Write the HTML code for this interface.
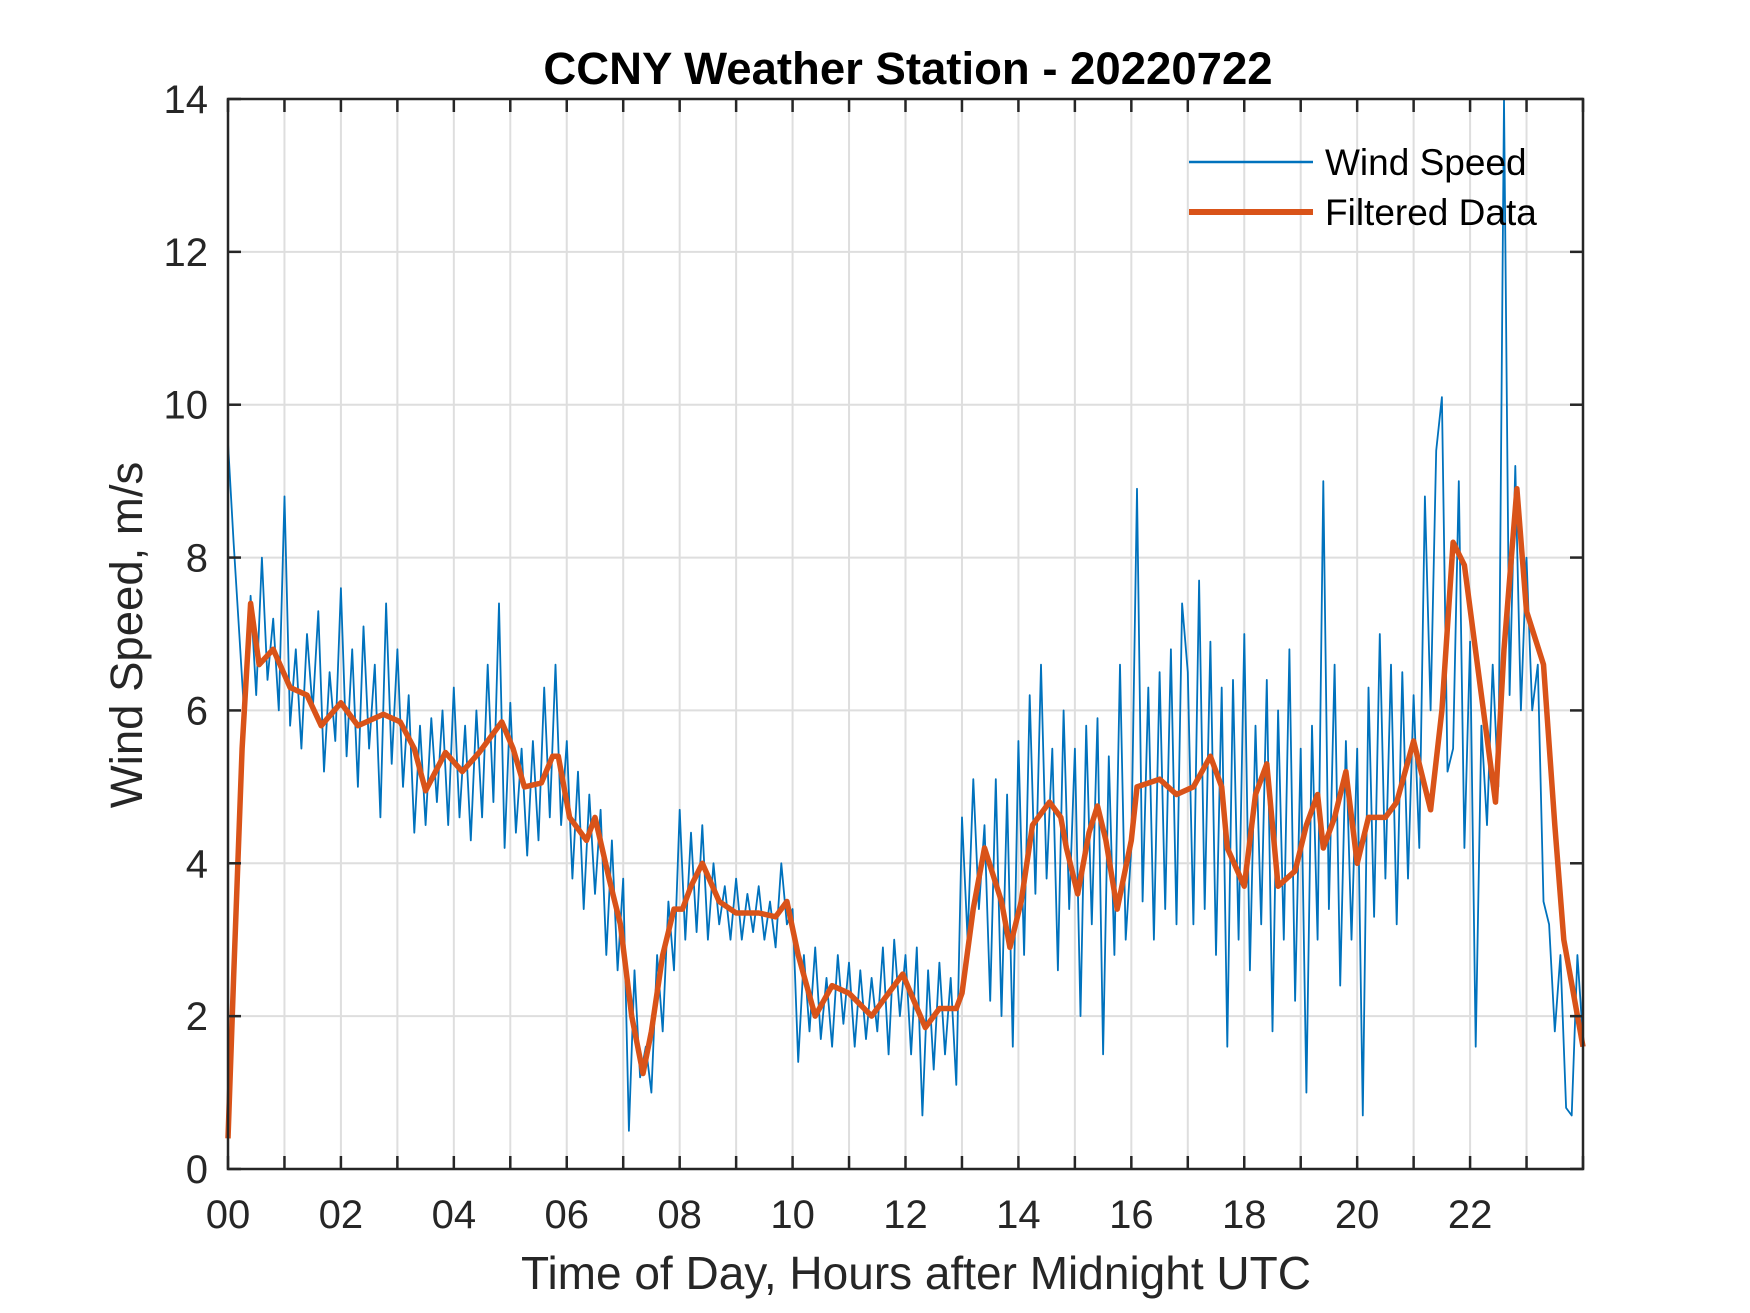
<!DOCTYPE html>
<html><head><meta charset="utf-8"><style>
html,body{margin:0;padding:0;background:#fff;}
svg{display:block;font-family:"Liberation Sans",Arial,sans-serif;}
</style></head><body>
<svg id="chart" width="1750" height="1313" viewBox="0 0 1750 1313" xmlns="http://www.w3.org/2000/svg">
<rect width="1750" height="1313" fill="#fff"/>
<g id="grid"></g>
<g id="plot"></g>
<g id="axes"></g>
<text x="908" y="84" text-anchor="middle" font-size="45.5" font-weight="bold" fill="#000">CCNY Weather Station - 20220722</text>
<text x="916" y="1289" text-anchor="middle" font-size="46" fill="#262626">Time of Day, Hours after Midnight UTC</text>
<text transform="translate(142,635) rotate(-90)" text-anchor="middle" font-size="45.5" fill="#262626">Wind Speed, m/s</text>
<g>
<line x1="1189" y1="162" x2="1313" y2="162" stroke="#0072BD" stroke-width="2.5"/>
<text x="1325" y="175" font-size="37" fill="#000">Wind Speed</text>
<line x1="1189" y1="212" x2="1313" y2="212" stroke="#D95319" stroke-width="6"/>
<text x="1325" y="225" font-size="37" fill="#000">Filtered Data</text>
</g>
</svg>
<script>
const windSpeed = [
9.5,8.2,7.0,5.8,7.5,6.2,8.0,6.4,7.2,6.0,
8.8,5.8,6.8,5.5,7.0,6.0,7.3,5.2,6.5,5.6,
7.6,5.4,6.8,5.0,7.1,5.5,6.6,4.6,7.4,5.3,
6.8,5.0,6.2,4.4,5.8,4.5,5.9,4.8,6.0,4.5,
6.3,4.6,5.8,4.3,6.0,4.6,6.6,4.8,7.4,4.2,
6.1,4.4,5.5,4.1,5.6,4.3,6.3,4.6,6.6,4.5,
5.6,3.8,5.2,3.4,4.9,3.6,4.7,2.8,4.3,2.6,
3.8,0.5,2.6,1.2,1.6,1.0,2.8,1.8,3.5,2.6,
4.7,3.0,4.4,3.1,4.5,3.0,4.0,3.2,3.7,3.0,
3.8,3.0,3.6,3.1,3.7,3.0,3.5,2.9,4.0,3.2,
3.4,1.4,2.8,1.8,2.9,1.7,2.5,1.6,2.8,1.9,
2.7,1.6,2.6,1.7,2.5,1.8,2.9,1.5,3.0,2.0,
2.8,1.5,2.9,0.7,2.6,1.3,2.7,1.5,2.5,1.1,
4.6,3.0,5.1,3.4,4.5,2.2,5.1,2.0,4.9,1.6,
5.6,2.8,6.2,3.6,6.6,3.8,5.5,2.6,6.0,3.4,
5.5,2.0,5.8,3.2,5.9,1.5,5.4,2.8,6.6,3.0,
4.2,8.9,3.5,6.3,3.0,6.5,3.4,6.8,3.2,7.4,
6.5,3.2,7.7,3.4,6.9,2.8,6.3,1.6,6.4,3.0,
7.0,2.6,5.8,3.2,6.4,1.8,6.0,3.0,6.8,2.2,
5.5,1.0,5.8,3.0,9.0,3.4,6.6,2.4,5.6,3.0,
5.5,0.7,6.3,3.3,7.0,3.8,6.6,3.2,6.5,3.8,
6.2,4.2,8.8,6.0,9.4,10.1,5.2,5.5,9.0,4.2,
6.9,1.6,5.8,4.5,6.6,5.0,14.0,6.2,9.2,6.0,
8.0,6.0,6.6,3.5,3.2,1.8,2.8,0.8,0.7,2.8,
1.7];
const windStep = 0.1;
const filtHours = [0,0.1,0.25,0.4,0.55,0.8,1.1,1.4,1.65,2.0,2.3,2.75,3.05,3.3,3.5,3.85,4.15,4.45,4.85,5.05,5.25,5.55,5.75,5.85,6.05,6.35,6.5,6.75,6.95,7.15,7.35,7.5,7.7,7.9,8.05,8.2,8.4,8.7,9.0,9.4,9.7,9.9,10.1,10.4,10.7,11.0,11.4,11.7,11.95,12.15,12.35,12.6,12.9,13.0,13.2,13.4,13.7,13.85,14.05,14.25,14.55,14.75,14.85,15.05,15.25,15.4,15.55,15.75,16.0,16.1,16.5,16.8,17.1,17.4,17.6,17.7,18.0,18.2,18.4,18.6,18.9,19.1,19.3,19.4,19.6,19.8,20.0,20.2,20.5,20.7,21.0,21.3,21.5,21.7,21.9,22.2,22.45,22.6,22.83,23.0,23.3,23.5,23.66,24.0];
const filtValues = [0.4,2.5,5.5,7.4,6.6,6.8,6.3,6.2,5.8,6.1,5.8,5.95,5.85,5.5,4.95,5.45,5.2,5.45,5.85,5.5,5.0,5.05,5.4,5.4,4.6,4.3,4.6,3.8,3.2,2.0,1.25,1.8,2.8,3.4,3.4,3.7,4.0,3.5,3.35,3.35,3.3,3.5,2.8,2.0,2.4,2.3,2.0,2.3,2.55,2.2,1.85,2.1,2.1,2.3,3.4,4.2,3.5,2.9,3.5,4.5,4.8,4.6,4.2,3.6,4.4,4.75,4.3,3.4,4.3,5.0,5.1,4.9,5.0,5.4,5.0,4.2,3.7,4.9,5.3,3.7,3.9,4.5,4.9,4.2,4.6,5.2,4.0,4.6,4.6,4.8,5.6,4.7,6.0,8.2,7.9,6.2,4.8,6.8,8.9,7.3,6.6,4.5,3.0,1.6];
const xTickLabels = ["00","02","04","06","08","10","12","14","16","18","20","22"];
const yTickLabels = ["0","2","4","6","8","10","12","14"];

const NS = "http://www.w3.org/2000/svg";
const L = 228, R = 1583, T = 99, B = 1169;
const xMax = 24, yMax = 14;
function xs(h){ return L + h / xMax * (R - L); }
function ys(v){ return B - v / yMax * (B - T); }
function mk(tag, attrs, parent){
  const e = document.createElementNS(NS, tag);
  for (const k in attrs) e.setAttribute(k, attrs[k]);
  parent.appendChild(e);
  return e;
}
const grid = document.getElementById('grid');
const plot = document.getElementById('plot');
const axes = document.getElementById('axes');

for (let h = 1; h < xMax; h++) {
  const g = mk('line', {x1: xs(h), x2: xs(h), y1: T, y2: B, stroke: '#dedede', 'stroke-width': 2}, grid);
  
  
}
for (let i = 1; i < yTickLabels.length - 1; i++) {
  const v = Number(yTickLabels[i]);
  const g = mk('line', {x1: L, x2: R, y1: ys(v), y2: ys(v), stroke: '#dedede', 'stroke-width': 2}, grid);
  
  
}

let d = '';
windSpeed.forEach((v, i) => { d += (i ? 'L' : 'M') + xs(Math.min(i * windStep, xMax)).toFixed(1) + ',' + ys(v).toFixed(1); });
const wl = mk('path', {d: d, fill: 'none', stroke: '#0072BD', 'stroke-width': 1.8, 'stroke-linejoin': 'round'}, plot);



let d2 = '';
filtValues.forEach((v, i) => { d2 += (i ? 'L' : 'M') + xs(filtHours[i]).toFixed(1) + ',' + ys(v).toFixed(1); });
const fl = mk('path', {d: d2, fill: 'none', stroke: '#D95319', 'stroke-width': 5.5, 'stroke-linejoin': 'round'}, plot);



const box = mk('rect', {x: L, y: T, width: R - L, height: B - T, fill: 'none', stroke: '#262626', 'stroke-width': 2.5}, axes);



for (let h = 0; h <= xMax; h++) {
  const t1 = mk('line', {x1: xs(h), x2: xs(h), y1: B, y2: B - 13, stroke: '#262626', 'stroke-width': 2.5}, axes);
  
  
  const t2 = mk('line', {x1: xs(h), x2: xs(h), y1: T, y2: T + 13, stroke: '#262626', 'stroke-width': 2.5}, axes);
  
  
}
xTickLabels.forEach((lab, i) => {
  const t = mk('text', {x: xs(i * 2), y: 1228, 'text-anchor': 'middle', 'font-size': 40, fill: '#262626'}, axes);
  t.textContent = lab;
  
  
});
yTickLabels.forEach((lab) => {
  const v = Number(lab);
  const a = mk('line', {x1: L, x2: L + 13, y1: ys(v), y2: ys(v), stroke: '#262626', 'stroke-width': 2.5}, axes);
  
  
  const b = mk('line', {x1: R, x2: R - 13, y1: ys(v), y2: ys(v), stroke: '#262626', 'stroke-width': 2.5}, axes);
  
  
  const t = mk('text', {x: 208, y: ys(v) + 14, 'text-anchor': 'end', 'font-size': 40, fill: '#262626'}, axes);
  t.textContent = lab;
  
  
});
</script>
</body></html>
